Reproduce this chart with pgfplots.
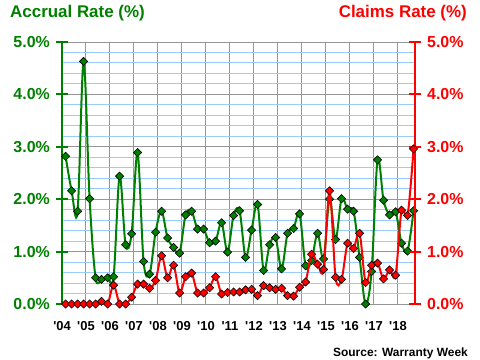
\documentclass[border=0pt]{standalone}
\usepackage{pgfplots}
\pgfplotsset{compat=1.18}
\usepackage{pgfplotstable}
\usepackage{fontspec}
\setmainfont{Liberation Sans}
\definecolor{accgreen}{RGB}{0,128,0}
\definecolor{clmred}{RGB}{255,0,0}
\definecolor{gridgray}{RGB}{150,150,150}
\definecolor{gridblue}{RGB}{153,204,255}

\pgfplotstableread{
i acc clm
1 2.82 0.00
2 2.16 0.00
3 1.77 0.00
4 4.63 0.00
5 2.01 0.00
6 0.50 0.00
7 0.47 0.05
8 0.50 0.00
9 0.52 0.36
10 2.44 0.00
11 1.13 0.00
12 1.34 0.13
13 2.89 0.38
14 0.81 0.38
15 0.57 0.30
16 1.37 0.45
17 1.77 0.92
18 1.26 0.50
19 1.08 0.74
20 0.97 0.21
21 1.70 0.52
22 1.77 0.59
23 1.43 0.21
24 1.43 0.21
25 1.17 0.31
26 1.20 0.52
27 1.55 0.19
28 0.99 0.22
29 1.69 0.23
30 1.78 0.23
31 0.89 0.27
32 1.41 0.28
33 1.90 0.16
34 0.64 0.35
35 1.13 0.31
36 1.27 0.28
37 0.67 0.30
38 1.35 0.16
39 1.44 0.15
40 1.72 0.32
41 0.73 0.42
42 0.83 0.95
43 1.35 0.76
44 0.86 0.66
45 2.00 2.16
46 1.23 0.51
47 2.01 0.47
48 1.81 1.16
49 1.77 1.06
50 0.89 1.35
51 0.00 0.41
52 0.62 0.74
53 2.75 0.78
54 1.98 0.48
55 1.70 0.65
56 1.76 0.55
57 1.16 1.79
58 1.01 1.69
59 1.78 2.96
}\rates

\begin{document}
\begin{tikzpicture}
\path (-62bp,-56bp) rectangle (418bp,304bp);
\begin{axis}[
  at={(0,0)}, anchor=south west, scale only axis,
  width=353bp, height=262bp,
  xmin=2004, xmax=2018.71, ymin=0, ymax=5,
  axis y line*=left, axis x line*=bottom,
  x axis line style={gridgray, line width=1bp},
  y axis line style={accgreen, line width=2bp},
  xtick={2004,2005,...,2018},
  xticklabels={\textquotesingle04,\textquotesingle05,\textquotesingle06,\textquotesingle07,\textquotesingle08,\textquotesingle09,\textquotesingle10,\textquotesingle11,\textquotesingle12,\textquotesingle13,\textquotesingle14,\textquotesingle15,\textquotesingle16,\textquotesingle17,\textquotesingle18},
  xtick style={draw=none},
  xticklabel style={font=\fontsize{13}{15}\selectfont\bfseries, inner sep=0pt, anchor=north, yshift=-11bp},
  ytick={0,1,2,3,4,5},
  yticklabels={0.0\%,1.0\%,2.0\%,3.0\%,4.0\%,5.0\%},
  minor y tick num=4,
  minor tick length=0pt,
  tick align=center, major tick length=12bp,
  ytick style={accgreen, line width=2bp},
  yticklabel style={font=\fontsize{16}{18}\selectfont\bfseries, text=accgreen, inner sep=0pt, anchor=east, xshift=-6bp},
  xmajorgrids, ymajorgrids, yminorgrids,
  major grid style={gridgray, line width=1bp},
  minor grid style={gridblue, line width=1bp},
  clip mode=individual,
]
\addplot[accgreen, line width=2bp, smooth, tension=0.55, mark=square*, mark size=2.9bp,
  mark options={rotate=45, fill=accgreen, draw=black, line width=0.6bp, solid}]
  table[x expr=2004.15+0.25*\coordindex, y=acc]{\rates};
\end{axis}
\begin{axis}[
  at={(0,0)}, anchor=south west, scale only axis,
  width=353bp, height=262bp,
  xmin=2004, xmax=2018.71, ymin=0, ymax=5,
  axis x line=none, axis y line*=right,
  y axis line style={clmred, line width=2bp},
  ytick={0,1,2,3,4,5},
  yticklabels={0.0\%,1.0\%,2.0\%,3.0\%,4.0\%,5.0\%},
  tick align=center, major tick length=12bp,
  ytick style={clmred, line width=2bp},
  yticklabel style={font=\fontsize{16}{18}\selectfont\bfseries, text=clmred, inner sep=0pt, anchor=west, xshift=6bp},
  clip mode=individual,
]
\addplot[clmred, line width=2bp, smooth, tension=0.55, mark=square*, mark size=2.9bp,
  mark options={rotate=45, fill=clmred, draw=black, line width=0.6bp, solid}]
  table[x expr=2004.15+0.25*\coordindex, y=clm]{\rates};
\end{axis}
\node[anchor=base west, text=accgreen, font=\fontsize{17}{20}\selectfont\bfseries, inner sep=0pt] at (-52bp,286bp) {Accrual Rate (\%)};
\node[anchor=base east, text=clmred, font=\fontsize{17}{20}\selectfont\bfseries, inner sep=0pt] at (405bp,286bp) {Claims Rate (\%)};
\node[anchor=base east, font=\fontsize{12}{14}\selectfont\bfseries, inner sep=0pt] at (406bp,-52bp) {Source: Warranty Week};
\end{tikzpicture}
\end{document}
